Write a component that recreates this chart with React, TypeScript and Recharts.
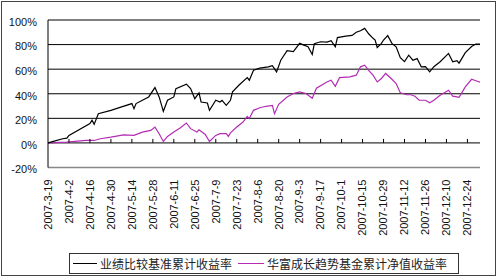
import React from "react";
import {
  LineChart,
  Line,
  XAxis,
  YAxis,
  CartesianGrid,
  ReferenceLine,
  ReferenceDot,
} from "recharts";

// category labels, one every 10 trading days
const dateLabels = [
  "2007-3-19", "2007-4-2", "2007-4-16", "2007-4-30", "2007-5-14",
  "2007-5-28", "2007-6-11", "2007-6-25", "2007-7-9", "2007-7-23",
  "2007-8-6", "2007-8-20", "2007-9-3", "2007-9-17", "2007-10-1",
  "2007-10-15", "2007-10-29", "2007-11-12", "2007-11-26", "2007-12-10",
  "2007-12-24",
];
const xTicks = dateLabels.map((_, i) => i * 10);
const yTicks = [-20, 0, 20, 40, 60, 80, 100];

// 业绩比较基准累计收益率 (trading day index, %)
const benchDays = [
  0, 3, 7, 9, 10, 20, 21, 22, 24, 30, 34, 40, 41, 42, 45, 48, 51, 53, 55, 57,
  60, 61, 66, 68, 70, 72, 73, 76, 77, 80, 82, 83, 85, 87, 88, 91, 95, 96, 98,
  101, 105, 107, 109, 111, 114, 117, 120, 122, 124, 126, 127, 130, 133, 135,
  137, 138, 142, 145, 147, 149, 151, 153, 155, 156, 157, 159, 160, 162, 164,
  166, 168, 170, 172, 174, 176, 178, 180, 182, 184, 187, 191, 193, 195, 196,
  199, 202, 204, 206,
];
const benchValues = [
  0, 1.5, 3.4, 3.9, 6.1, 15.7, 18.4, 15.1, 23.8, 26.5, 28.7, 32, 27.9, 32,
  34.7, 37.4, 45, 37.4, 25.7, 34.7, 37.4, 44.2, 47.8, 44.2, 36, 40.7, 33.3,
  32.5, 26.5, 34.7, 33.3, 34.7, 30.6, 34.7, 41.5, 46.9, 53.2, 51, 59.2, 60.8,
  61.9, 62.9, 57.8, 67.3, 75.1, 74.3, 81, 79.6, 78.2, 72, 80.8, 82.3, 82,
  83.1, 78.2, 85.7, 86.9, 87.5, 90, 91.3, 93.2, 88.6, 85.1, 83.7, 77.6, 81,
  83.7, 87.3, 81, 78.2, 69.4, 66.1, 71.4, 67.3, 68.6, 61.9, 62, 57.8, 62, 66,
  72.8, 66, 66.9, 64.9, 73.5, 78.4, 80.4, 80.4,
];

// 华富成长趋势基金累计净值收益率
const fundDays = [
  0, 9, 18, 22, 25, 30, 36, 41, 45, 49, 51, 53, 55, 57, 60, 63, 66, 68, 71,
  72, 75, 77, 80, 82, 85, 86, 87, 90, 93, 95, 96, 98, 101, 104, 107, 108, 110,
  114, 117, 120, 123, 126, 128, 133, 135, 137, 139, 144, 147, 149, 151, 153,
  155, 157, 159, 161, 164, 166, 168, 171, 173, 175, 177, 180, 182, 184, 187,
  191, 193, 195, 196, 199, 202, 205, 206,
];
const fundValues = [
  0, 0.7, 2, 2, 3.4, 4.7, 6.5, 6.1, 8.8, 10.2, 12.9, 7.5, 1.2, 5.3, 8.8, 12.2,
  16.2, 11.6, 8.8, 10.6, 6.9, 1.2, 6.1, 7.5, 7.5, 5.3, 8.2, 12.9, 17, 21.6,
  19.8, 26.5, 28.6, 29.8, 30.6, 23.8, 31.4, 37.4, 40.2, 41.5, 40.2, 36.3,
  44.5, 49.6, 51, 46.1, 53.1, 53.7, 55.1, 61.9, 63.3, 58.8, 55.1, 49.6, 52.4,
  56.5, 51.8, 48.3, 40.8, 39.2, 39.2, 38, 34.7, 34.7, 32.7, 34.7, 38.8, 42.9,
  38, 37.4, 37.1, 45.6, 51.8, 50, 49.4,
];

const benchData = benchDays.map((d, i) => ({ x: d, v: benchValues[i] }));
const fundData = fundDays.map((d, i) => ({ x: d, v: fundValues[i] }));

const tickFont = "Arial, 'Liberation Sans', sans-serif";

const XTick = (props: any) => {
  const { x, y, payload } = props;
  const label = dateLabels[Math.round(payload.value / 10)] ?? "";
  const ty = y + 10;
  return (
    <text
      x={x}
      y={ty}
      transform={`rotate(-90 ${x} ${ty})`}
      textAnchor="end"
      dy="0.35em"
      fontSize={11}
      fontFamily={tickFont}
      fill="#111"
    >
      {label}
    </text>
  );
};

const YTick = (props: any) => {
  const { x, y, payload } = props;
  return (
    <text
      x={x}
      y={y + 2}
      textAnchor="end"
      dy="0.35em"
      fontSize={11}
      fontFamily={tickFont}
      fill="#111"
    >
      {payload.value + "%"}
    </text>
  );
};

const TickMark = (props: any) => (
  <line x1={props.cx} y1={props.cy} x2={props.cx} y2={props.cy - 4} stroke="#000" strokeWidth={1} />
);

const legendFont = "'Noto Sans CJK SC', sans-serif";

const App: React.FC = () => {
  return (
    <div style={{ position: "relative", width: 500, height: 278, background: "#fff" }}>
      <style>{`body{margin:0}`}</style>
      <div
        style={{
          position: "absolute",
          left: 1,
          top: 1,
          width: 493,
          height: 273,
          border: "1px solid #444",
        }}
      />
      <LineChart
        width={500}
        height={278}
        margin={{ top: 20, right: 20, left: 8, bottom: 20.5 }}
        style={{ position: "absolute", left: 0, top: 0 }}
      >
        <CartesianGrid
          vertical={false}
          horizontalValues={[20, 40, 60, 80, 100]}
          stroke="#000"
          strokeWidth={1}
        />
        <XAxis
          dataKey="x"
          type="number"
          domain={[0, 206]}
          ticks={xTicks}
          interval={0}
          height={90}
          tickLine={false}
          tickSize={0}
          axisLine={{ stroke: "#888", strokeWidth: 1.5 }}
          tick={<XTick />}
          allowDataOverflow
        />
        <YAxis
          type="number"
          domain={[-20, 100]}
          ticks={yTicks}
          interval={0}
          width={40}
          tickLine={false}
          tickSize={0}
          tickMargin={11}
          axisLine={{ stroke: "#000" }}
          tick={<YTick />}
        />
        <ReferenceLine y={0} stroke="#000" strokeWidth={1} />
        {xTicks.slice(1).map((t) => (
          <ReferenceDot key={t} x={t} y={0} r={0} shape={<TickMark />} />
        ))}
        <Line
          data={fundData}
          dataKey="v"
          type="linear"
          stroke="#b42cb4"
          strokeWidth={1.2}
          dot={false}
          isAnimationActive={false}
        />
        <Line
          data={benchData}
          dataKey="v"
          type="linear"
          stroke="#000"
          strokeWidth={1.2}
          dot={false}
          isAnimationActive={false}
        />
      </LineChart>
      <div
        style={{
          position: "absolute",
          left: 69,
          top: 253,
          width: 388,
          height: 19,
          border: "1px solid #333",
          display: "flex",
          alignItems: "center",
          fontFamily: legendFont,
          fontSize: 12,
          color: "#222",
          whiteSpace: "nowrap",
        }}
      >
        <span style={{ display: "inline-block", width: 24, height: 0, borderTop: "1px solid #000", marginLeft: 3, marginRight: 3 }} />
        <span>业绩比较基准累计收益率</span>
        <span style={{ display: "inline-block", width: 26, height: 0, borderTop: "1px solid #b42cb4", marginLeft: 6, marginRight: 3 }} />
        <span>华富成长趋势基金累计净值收益率</span>
      </div>
    </div>
  );
};

export default App;
